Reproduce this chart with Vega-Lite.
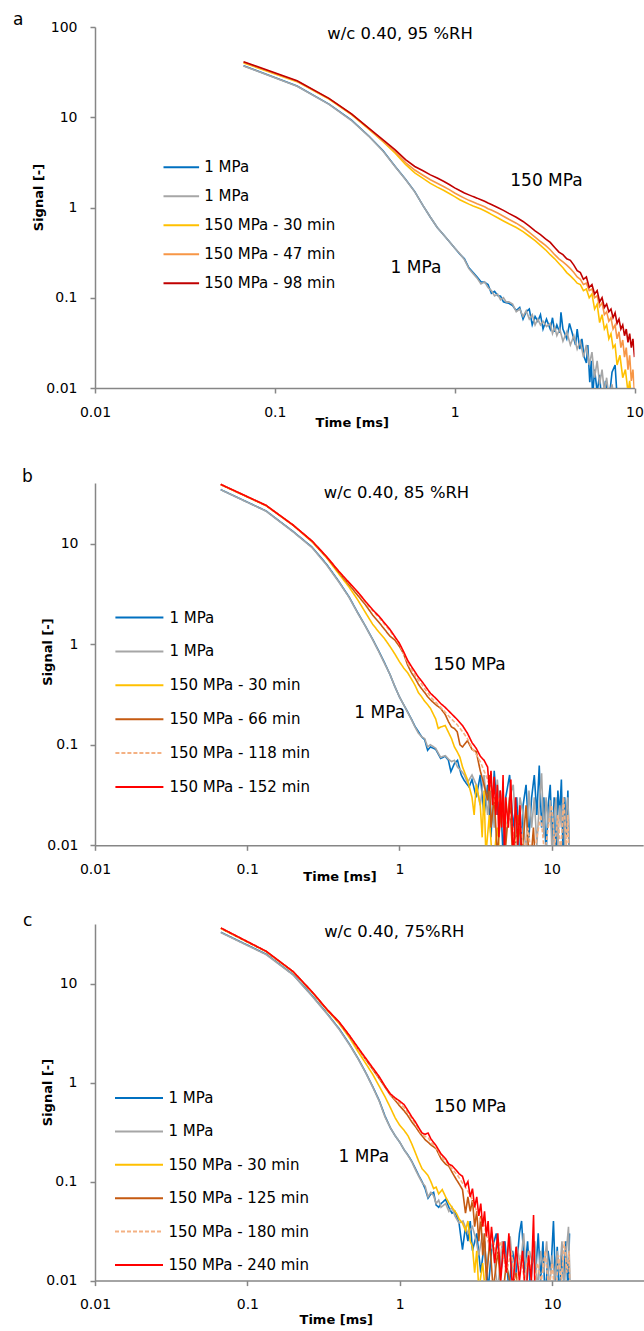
{
"$schema":"https://vega.github.io/schema/vega-lite/v6.json",
"padding":{"left":13,"top":11,"right":0,"bottom":0},
"config":{"view":{"stroke":null},"font":"DejaVu Sans",
"axis":{"grid":false,"domainColor":"#868686","tickColor":"#868686","tickSize":5,"domainWidth":1.5,"tickWidth":1.5,"labelFont":"DejaVu Sans","labelFontSize":14,"labelColor":"#000","titleFont":"DejaVu Sans","titleFontSize":13,"titleFontWeight":"bold","titleColor":"#000","labelFlush":false,"labelOverlap":false,"format":"~g"},
"legend":{"orient":"none","title":null,"symbolType":"stroke","symbolStrokeWidth":2,"labelFont":"DejaVu Sans","labelFontSize":15,"labelColor":"#000","clipHeight":20,"padding":0,"symbolOffset":0},
"title":{"anchor":"start","frame":"group","baseline":"alphabetic","fontSize":17,"fontWeight":"normal","font":"DejaVu Sans","color":"#000"}},
"datasets":{
"a":[
{"k":"B","t":0.067,"s":37.3},{"k":"B","t":0.133,"s":22.2},{"k":"B","t":0.2,"s":14.0},{"k":"B","t":0.267,"s":9.3},{"k":"B","t":0.333,"s":6.2},{"k":"B","t":0.4,"s":4.25},{"k":"B","t":0.467,"s":2.85},{"k":"B","t":0.533,"s":2.05},{"k":"B","t":0.6,"s":1.5},{"k":"B","t":0.667,"s":1.05},{"k":"B","t":0.733,"s":0.78},{"k":"B","t":0.8,"s":0.6},{"k":"B","t":0.867,"s":0.5},{"k":"B","t":0.933,"s":0.42},{"k":"B","t":1.0,"s":0.355},{"k":"B","t":1.067,"s":0.305},{"k":"B","t":1.133,"s":0.27},{"k":"B","t":1.2,"s":0.215},{"k":"B","t":1.267,"s":0.19},{"k":"B","t":1.333,"s":0.17},{"k":"B","t":1.4,"s":0.15},{"k":"B","t":1.467,"s":0.148},{"k":"B","t":1.533,"s":0.14},{"k":"B","t":1.6,"s":0.112},{"k":"B","t":1.667,"s":0.118},{"k":"B","t":1.733,"s":0.106},{"k":"B","t":1.8,"s":0.104},{"k":"B","t":1.867,"s":0.09},{"k":"B","t":1.933,"s":0.088},{"k":"B","t":2.0,"s":0.087},{"k":"B","t":2.1,"s":0.082},{"k":"B","t":2.2,"s":0.072},{"k":"B","t":2.3,"s":0.078},{"k":"B","t":2.4,"s":0.058},{"k":"B","t":2.5,"s":0.07},{"k":"B","t":2.6,"s":0.075},{"k":"B","t":2.7,"s":0.05},{"k":"B","t":2.8,"s":0.062},{"k":"B","t":2.9,"s":0.055},{"k":"B","t":3.0,"s":0.065},{"k":"B","t":3.1,"s":0.045},{"k":"B","t":3.24,"s":0.058},{"k":"B","t":3.4,"s":0.045},{"k":"B","t":3.5,"s":0.06},{"k":"B","t":3.6,"s":0.042},{"k":"B","t":3.7,"s":0.05},{"k":"B","t":3.84,"s":0.041},{"k":"B","t":3.9,"s":0.069},{"k":"B","t":4.0,"s":0.045},{"k":"B","t":4.2,"s":0.035},{"k":"B","t":4.35,"s":0.052},{"k":"B","t":4.55,"s":0.038},{"k":"B","t":4.7,"s":0.03},{"k":"B","t":4.8,"s":0.045},{"k":"B","t":4.96,"s":0.027},{"k":"B","t":5.1,"s":0.035},{"k":"B","t":5.25,"s":0.022},{"k":"B","t":5.4,"s":0.019},{"k":"B","t":5.5,"s":0.03},{"k":"B","t":5.64,"s":0.0116},{"k":"B","t":5.75,"s":0.02},{"k":"B","t":5.85,"s":0.008},{"k":"B","t":6.0,"s":0.016},{"k":"B","t":6.2,"s":0.009},{"k":"B","t":6.4,"s":0.014},{"k":"B","t":6.6,"s":0.006},{"k":"B","t":6.9,"s":0.012},{"k":"B","t":7.2,"s":0.007},{"k":"B","t":7.5,"s":0.015},{"k":"B","t":7.8,"s":0.018},{"k":"B","t":8.0,"s":0.008},{"k":"B","t":8.2,"s":0.005},
{"k":"G","t":0.067,"s":37.0},{"k":"G","t":0.133,"s":22.0},{"k":"G","t":0.2,"s":13.9},{"k":"G","t":0.267,"s":9.2},{"k":"G","t":0.333,"s":6.15},{"k":"G","t":0.4,"s":4.2},{"k":"G","t":0.467,"s":2.83},{"k":"G","t":0.533,"s":2.04},{"k":"G","t":0.6,"s":1.49},{"k":"G","t":0.667,"s":1.05},{"k":"G","t":0.733,"s":0.78},{"k":"G","t":0.8,"s":0.6},{"k":"G","t":0.867,"s":0.5},{"k":"G","t":0.933,"s":0.42},{"k":"G","t":1.0,"s":0.355},{"k":"G","t":1.067,"s":0.31},{"k":"G","t":1.133,"s":0.265},{"k":"G","t":1.2,"s":0.21},{"k":"G","t":1.267,"s":0.185},{"k":"G","t":1.333,"s":0.165},{"k":"G","t":1.4,"s":0.142},{"k":"G","t":1.467,"s":0.15},{"k":"G","t":1.533,"s":0.13},{"k":"G","t":1.6,"s":0.12},{"k":"G","t":1.667,"s":0.105},{"k":"G","t":1.733,"s":0.11},{"k":"G","t":1.8,"s":0.095},{"k":"G","t":1.867,"s":0.1},{"k":"G","t":1.933,"s":0.09},{"k":"G","t":2.0,"s":0.09},{"k":"G","t":2.1,"s":0.085},{"k":"G","t":2.2,"s":0.07},{"k":"G","t":2.3,"s":0.075},{"k":"G","t":2.4,"s":0.062},{"k":"G","t":2.5,"s":0.072},{"k":"G","t":2.6,"s":0.058},{"k":"G","t":2.7,"s":0.065},{"k":"G","t":2.8,"s":0.05},{"k":"G","t":2.9,"s":0.058},{"k":"G","t":3.0,"s":0.05},{"k":"G","t":3.1,"s":0.055},{"k":"G","t":3.24,"s":0.048},{"k":"G","t":3.4,"s":0.052},{"k":"G","t":3.5,"s":0.04},{"k":"G","t":3.6,"s":0.047},{"k":"G","t":3.7,"s":0.038},{"k":"G","t":3.84,"s":0.045},{"k":"G","t":4.0,"s":0.033},{"k":"G","t":4.2,"s":0.042},{"k":"G","t":4.4,"s":0.03},{"k":"G","t":4.6,"s":0.038},{"k":"G","t":4.8,"s":0.027},{"k":"G","t":5.0,"s":0.033},{"k":"G","t":5.2,"s":0.022},{"k":"G","t":5.4,"s":0.03},{"k":"G","t":5.6,"s":0.018},{"k":"G","t":5.8,"s":0.025},{"k":"G","t":6.0,"s":0.013},{"k":"G","t":6.2,"s":0.02},{"k":"G","t":6.4,"s":0.011},{"k":"G","t":6.6,"s":0.016},{"k":"G","t":6.8,"s":0.009},{"k":"G","t":7.0,"s":0.013},{"k":"G","t":7.2,"s":0.008},{"k":"G","t":7.5,"s":0.011},{"k":"G","t":7.8,"s":0.006},
{"k":"Y","t":0.067,"s":40.0},{"k":"Y","t":0.133,"s":24.8},{"k":"Y","t":0.2,"s":15.9},{"k":"Y","t":0.267,"s":10.7},{"k":"Y","t":0.333,"s":7.4},{"k":"Y","t":0.4,"s":5.35},{"k":"Y","t":0.467,"s":4.0},{"k":"Y","t":0.533,"s":3.0},{"k":"Y","t":0.6,"s":2.42},{"k":"Y","t":0.667,"s":2.1},{"k":"Y","t":0.733,"s":1.85},{"k":"Y","t":0.8,"s":1.68},{"k":"Y","t":0.867,"s":1.55},{"k":"Y","t":0.933,"s":1.43},{"k":"Y","t":1.0,"s":1.32},{"k":"Y","t":1.067,"s":1.22},{"k":"Y","t":1.133,"s":1.15},{"k":"Y","t":1.2,"s":1.09},{"k":"Y","t":1.267,"s":1.04},{"k":"Y","t":1.333,"s":1.0},{"k":"Y","t":1.4,"s":0.96},{"k":"Y","t":1.467,"s":0.92},{"k":"Y","t":1.533,"s":0.88},{"k":"Y","t":1.6,"s":0.84},{"k":"Y","t":1.733,"s":0.77},{"k":"Y","t":1.867,"s":0.71},{"k":"Y","t":2.0,"s":0.66},{"k":"Y","t":2.2,"s":0.6},{"k":"Y","t":2.4,"s":0.54},{"k":"Y","t":2.6,"s":0.48},{"k":"Y","t":2.8,"s":0.43},{"k":"Y","t":3.0,"s":0.38},{"k":"Y","t":3.2,"s":0.34},{"k":"Y","t":3.4,"s":0.3},{"k":"Y","t":3.6,"s":0.27},{"k":"Y","t":3.8,"s":0.24},{"k":"Y","t":4.0,"s":0.215},{"k":"Y","t":4.2,"s":0.19},{"k":"Y","t":4.4,"s":0.175},{"k":"Y","t":4.6,"s":0.16},{"k":"Y","t":4.8,"s":0.145},{"k":"Y","t":5.0,"s":0.14},{"k":"Y","t":5.2,"s":0.12},{"k":"Y","t":5.4,"s":0.125},{"k":"Y","t":5.6,"s":0.1},{"k":"Y","t":5.8,"s":0.11},{"k":"Y","t":6.0,"s":0.075},{"k":"Y","t":6.2,"s":0.085},{"k":"Y","t":6.4,"s":0.053},{"k":"Y","t":6.6,"s":0.065},{"k":"Y","t":6.8,"s":0.045},{"k":"Y","t":7.0,"s":0.05},{"k":"Y","t":7.2,"s":0.035},{"k":"Y","t":7.4,"s":0.04},{"k":"Y","t":7.6,"s":0.028},{"k":"Y","t":7.8,"s":0.03},{"k":"Y","t":8.0,"s":0.018},{"k":"Y","t":8.3,"s":0.023},{"k":"Y","t":8.6,"s":0.013},{"k":"Y","t":8.9,"s":0.016},{"k":"Y","t":9.2,"s":0.009},{"k":"Y","t":9.4,"s":0.012},{"k":"Y","t":9.7,"s":0.006},{"k":"Y","t":10.0,"s":0.008},
{"k":"O","t":0.067,"s":40.6},{"k":"O","t":0.133,"s":25.1},{"k":"O","t":0.2,"s":16.1},{"k":"O","t":0.267,"s":10.8},{"k":"O","t":0.333,"s":7.5},{"k":"O","t":0.4,"s":5.45},{"k":"O","t":0.467,"s":4.15},{"k":"O","t":0.533,"s":3.15},{"k":"O","t":0.6,"s":2.6},{"k":"O","t":0.667,"s":2.28},{"k":"O","t":0.733,"s":2.03},{"k":"O","t":0.8,"s":1.86},{"k":"O","t":0.867,"s":1.71},{"k":"O","t":0.933,"s":1.58},{"k":"O","t":1.0,"s":1.45},{"k":"O","t":1.067,"s":1.35},{"k":"O","t":1.133,"s":1.27},{"k":"O","t":1.2,"s":1.2},{"k":"O","t":1.267,"s":1.15},{"k":"O","t":1.333,"s":1.1},{"k":"O","t":1.4,"s":1.06},{"k":"O","t":1.467,"s":1.02},{"k":"O","t":1.533,"s":0.97},{"k":"O","t":1.6,"s":0.94},{"k":"O","t":1.733,"s":0.87},{"k":"O","t":1.867,"s":0.8},{"k":"O","t":2.0,"s":0.74},{"k":"O","t":2.2,"s":0.67},{"k":"O","t":2.4,"s":0.6},{"k":"O","t":2.6,"s":0.53},{"k":"O","t":2.8,"s":0.47},{"k":"O","t":3.0,"s":0.42},{"k":"O","t":3.2,"s":0.38},{"k":"O","t":3.4,"s":0.34},{"k":"O","t":3.6,"s":0.3},{"k":"O","t":3.8,"s":0.27},{"k":"O","t":4.0,"s":0.25},{"k":"O","t":4.2,"s":0.23},{"k":"O","t":4.4,"s":0.21},{"k":"O","t":4.6,"s":0.19},{"k":"O","t":4.8,"s":0.17},{"k":"O","t":5.0,"s":0.16},{"k":"O","t":5.2,"s":0.14},{"k":"O","t":5.4,"s":0.145},{"k":"O","t":5.6,"s":0.12},{"k":"O","t":5.8,"s":0.125},{"k":"O","t":6.0,"s":0.1},{"k":"O","t":6.2,"s":0.105},{"k":"O","t":6.4,"s":0.08},{"k":"O","t":6.6,"s":0.088},{"k":"O","t":6.8,"s":0.065},{"k":"O","t":7.0,"s":0.07},{"k":"O","t":7.2,"s":0.055},{"k":"O","t":7.4,"s":0.06},{"k":"O","t":7.6,"s":0.045},{"k":"O","t":7.8,"s":0.05},{"k":"O","t":8.0,"s":0.035},{"k":"O","t":8.2,"s":0.042},{"k":"O","t":8.4,"s":0.028},{"k":"O","t":8.6,"s":0.034},{"k":"O","t":8.8,"s":0.022},{"k":"O","t":9.0,"s":0.028},{"k":"O","t":9.2,"s":0.016},{"k":"O","t":9.4,"s":0.023},{"k":"O","t":9.6,"s":0.012},{"k":"O","t":9.8,"s":0.016},{"k":"O","t":10.0,"s":0.009},
{"k":"R","t":0.067,"s":41.3},{"k":"R","t":0.133,"s":25.4},{"k":"R","t":0.2,"s":16.2},{"k":"R","t":0.267,"s":10.9},{"k":"R","t":0.333,"s":7.6},{"k":"R","t":0.4,"s":5.6},{"k":"R","t":0.467,"s":4.35},{"k":"R","t":0.533,"s":3.4},{"k":"R","t":0.6,"s":2.85},{"k":"R","t":0.667,"s":2.55},{"k":"R","t":0.733,"s":2.3},{"k":"R","t":0.8,"s":2.12},{"k":"R","t":0.867,"s":1.95},{"k":"R","t":0.933,"s":1.8},{"k":"R","t":1.0,"s":1.65},{"k":"R","t":1.067,"s":1.54},{"k":"R","t":1.133,"s":1.45},{"k":"R","t":1.2,"s":1.38},{"k":"R","t":1.267,"s":1.32},{"k":"R","t":1.333,"s":1.27},{"k":"R","t":1.4,"s":1.22},{"k":"R","t":1.467,"s":1.17},{"k":"R","t":1.533,"s":1.12},{"k":"R","t":1.6,"s":1.08},{"k":"R","t":1.733,"s":1.0},{"k":"R","t":1.867,"s":0.93},{"k":"R","t":2.0,"s":0.86},{"k":"R","t":2.2,"s":0.78},{"k":"R","t":2.4,"s":0.7},{"k":"R","t":2.6,"s":0.62},{"k":"R","t":2.8,"s":0.55},{"k":"R","t":3.0,"s":0.5},{"k":"R","t":3.2,"s":0.45},{"k":"R","t":3.4,"s":0.41},{"k":"R","t":3.6,"s":0.36},{"k":"R","t":3.8,"s":0.32},{"k":"R","t":4.0,"s":0.3},{"k":"R","t":4.2,"s":0.27},{"k":"R","t":4.4,"s":0.26},{"k":"R","t":4.6,"s":0.23},{"k":"R","t":4.8,"s":0.2},{"k":"R","t":5.0,"s":0.19},{"k":"R","t":5.2,"s":0.16},{"k":"R","t":5.4,"s":0.17},{"k":"R","t":5.6,"s":0.13},{"k":"R","t":5.8,"s":0.14},{"k":"R","t":6.0,"s":0.11},{"k":"R","t":6.2,"s":0.12},{"k":"R","t":6.4,"s":0.09},{"k":"R","t":6.6,"s":0.1},{"k":"R","t":6.8,"s":0.078},{"k":"R","t":7.0,"s":0.085},{"k":"R","t":7.2,"s":0.07},{"k":"R","t":7.4,"s":0.075},{"k":"R","t":7.6,"s":0.06},{"k":"R","t":7.8,"s":0.068},{"k":"R","t":8.0,"s":0.052},{"k":"R","t":8.2,"s":0.058},{"k":"R","t":8.4,"s":0.045},{"k":"R","t":8.6,"s":0.05},{"k":"R","t":8.8,"s":0.038},{"k":"R","t":9.0,"s":0.045},{"k":"R","t":9.2,"s":0.032},{"k":"R","t":9.4,"s":0.04},{"k":"R","t":9.6,"s":0.028},{"k":"R","t":9.8,"s":0.035},{"k":"R","t":10.0,"s":0.022}
],
"b":[
{"k":"B","t":0.067,"s":34.4},{"k":"B","t":0.133,"s":21.1},{"k":"B","t":0.2,"s":13.2},{"k":"B","t":0.267,"s":9.2},{"k":"B","t":0.333,"s":6.2},{"k":"B","t":0.4,"s":4.2},{"k":"B","t":0.467,"s":2.95},{"k":"B","t":0.533,"s":2.05},{"k":"B","t":0.6,"s":1.5},{"k":"B","t":0.667,"s":1.12},{"k":"B","t":0.733,"s":0.85},{"k":"B","t":0.8,"s":0.65},{"k":"B","t":0.867,"s":0.5},{"k":"B","t":0.933,"s":0.38},{"k":"B","t":1.0,"s":0.3},{"k":"B","t":1.067,"s":0.25},{"k":"B","t":1.133,"s":0.212},{"k":"B","t":1.2,"s":0.18},{"k":"B","t":1.267,"s":0.152},{"k":"B","t":1.333,"s":0.135},{"k":"B","t":1.4,"s":0.12},{"k":"B","t":1.467,"s":0.112},{"k":"B","t":1.533,"s":0.088},{"k":"B","t":1.6,"s":0.095},{"k":"B","t":1.733,"s":0.09},{"k":"B","t":1.867,"s":0.073},{"k":"B","t":2.0,"s":0.077},{"k":"B","t":2.1,"s":0.07},{"k":"B","t":2.18,"s":0.054},{"k":"B","t":2.3,"s":0.065},{"k":"B","t":2.41,"s":0.07},{"k":"B","t":2.55,"s":0.05},{"k":"B","t":2.67,"s":0.044},{"k":"B","t":2.87,"s":0.038},{"k":"B","t":3.0,"s":0.045},{"k":"B","t":3.2,"s":0.03},{"k":"B","t":3.4,"s":0.05},{"k":"B","t":3.6,"s":0.02},{"k":"B","t":3.8,"s":0.04},{"k":"B","t":4.0,"s":0.012},{"k":"B","t":4.2,"s":0.055},{"k":"B","t":4.4,"s":0.02},{"k":"B","t":4.6,"s":0.035},{"k":"B","t":4.8,"s":0.008},{"k":"B","t":5.0,"s":0.03},{"k":"B","t":5.3,"s":0.05},{"k":"B","t":5.6,"s":0.015},{"k":"B","t":5.9,"s":0.03},{"k":"B","t":6.2,"s":0.006},{"k":"B","t":6.5,"s":0.025},{"k":"B","t":6.8,"s":0.04},{"k":"B","t":7.1,"s":0.012},{"k":"B","t":7.4,"s":0.03},{"k":"B","t":7.7,"s":0.05},{"k":"B","t":8.0,"s":0.02},{"k":"B","t":8.3,"s":0.062},{"k":"B","t":8.6,"s":0.015},{"k":"B","t":8.9,"s":0.03},{"k":"B","t":9.2,"s":0.008},{"k":"B","t":9.5,"s":0.025},{"k":"B","t":9.8,"s":0.04},{"k":"B","t":10.1,"s":0.01},{"k":"B","t":10.4,"s":0.03},{"k":"B","t":10.7,"s":0.006},{"k":"B","t":11.0,"s":0.035},{"k":"B","t":11.3,"s":0.02},{"k":"B","t":11.6,"s":0.045},{"k":"B","t":11.9,"s":0.008},{"k":"B","t":12.2,"s":0.03},{"k":"B","t":12.5,"s":0.012},{"k":"B","t":12.8,"s":0.035},{"k":"B","t":13.1,"s":0.006},
{"k":"G","t":0.067,"s":34.3},{"k":"G","t":0.133,"s":21.0},{"k":"G","t":0.2,"s":13.1},{"k":"G","t":0.267,"s":9.1},{"k":"G","t":0.333,"s":6.1},{"k":"G","t":0.4,"s":4.15},{"k":"G","t":0.467,"s":2.92},{"k":"G","t":0.533,"s":2.03},{"k":"G","t":0.6,"s":1.49},{"k":"G","t":0.667,"s":1.11},{"k":"G","t":0.733,"s":0.84},{"k":"G","t":0.8,"s":0.64},{"k":"G","t":0.867,"s":0.5},{"k":"G","t":0.933,"s":0.38},{"k":"G","t":1.0,"s":0.3},{"k":"G","t":1.067,"s":0.25},{"k":"G","t":1.133,"s":0.21},{"k":"G","t":1.2,"s":0.178},{"k":"G","t":1.267,"s":0.15},{"k":"G","t":1.333,"s":0.13},{"k":"G","t":1.4,"s":0.12},{"k":"G","t":1.467,"s":0.115},{"k":"G","t":1.533,"s":0.095},{"k":"G","t":1.6,"s":0.1},{"k":"G","t":1.733,"s":0.092},{"k":"G","t":1.867,"s":0.075},{"k":"G","t":2.0,"s":0.078},{"k":"G","t":2.1,"s":0.072},{"k":"G","t":2.2,"s":0.068},{"k":"G","t":2.3,"s":0.07},{"k":"G","t":2.41,"s":0.06},{"k":"G","t":2.55,"s":0.055},{"k":"G","t":2.67,"s":0.05},{"k":"G","t":2.8,"s":0.042},{"k":"G","t":3.0,"s":0.05},{"k":"G","t":3.2,"s":0.04},{"k":"G","t":3.4,"s":0.025},{"k":"G","t":3.6,"s":0.05},{"k":"G","t":3.8,"s":0.02},{"k":"G","t":4.0,"s":0.04},{"k":"G","t":4.2,"s":0.015},{"k":"G","t":4.4,"s":0.045},{"k":"G","t":4.6,"s":0.02},{"k":"G","t":4.8,"s":0.035},{"k":"G","t":5.0,"s":0.012},{"k":"G","t":5.3,"s":0.03},{"k":"G","t":5.6,"s":0.04},{"k":"G","t":5.9,"s":0.01},{"k":"G","t":6.2,"s":0.03},{"k":"G","t":6.5,"s":0.02},{"k":"G","t":6.8,"s":0.008},{"k":"G","t":7.1,"s":0.035},{"k":"G","t":7.4,"s":0.015},{"k":"G","t":7.7,"s":0.03},{"k":"G","t":8.0,"s":0.01},{"k":"G","t":8.3,"s":0.025},{"k":"G","t":8.6,"s":0.052},{"k":"G","t":8.9,"s":0.012},{"k":"G","t":9.2,"s":0.03},{"k":"G","t":9.5,"s":0.015},{"k":"G","t":9.8,"s":0.028},{"k":"G","t":10.1,"s":0.007},{"k":"G","t":10.4,"s":0.02},{"k":"G","t":10.7,"s":0.03},{"k":"G","t":11.0,"s":0.01},{"k":"G","t":11.3,"s":0.025},{"k":"G","t":11.6,"s":0.015},{"k":"G","t":11.9,"s":0.03},{"k":"G","t":12.2,"s":0.01},{"k":"G","t":12.5,"s":0.022},{"k":"G","t":12.8,"s":0.03},{"k":"G","t":13.1,"s":0.008},
{"k":"Y","t":0.067,"s":38.5},{"k":"Y","t":0.133,"s":23.8},{"k":"Y","t":0.2,"s":15.2},{"k":"Y","t":0.267,"s":10.4},{"k":"Y","t":0.333,"s":7.2},{"k":"Y","t":0.4,"s":5.0},{"k":"Y","t":0.467,"s":3.7},{"k":"Y","t":0.533,"s":2.75},{"k":"Y","t":0.6,"s":2.05},{"k":"Y","t":0.667,"s":1.58},{"k":"Y","t":0.733,"s":1.32},{"k":"Y","t":0.8,"s":1.13},{"k":"Y","t":0.867,"s":0.95},{"k":"Y","t":0.933,"s":0.8},{"k":"Y","t":1.0,"s":0.67},{"k":"Y","t":1.067,"s":0.58},{"k":"Y","t":1.133,"s":0.52},{"k":"Y","t":1.2,"s":0.45},{"k":"Y","t":1.267,"s":0.39},{"k":"Y","t":1.333,"s":0.33},{"k":"Y","t":1.4,"s":0.3},{"k":"Y","t":1.467,"s":0.27},{"k":"Y","t":1.533,"s":0.25},{"k":"Y","t":1.6,"s":0.23},{"k":"Y","t":1.733,"s":0.18},{"k":"Y","t":1.8,"s":0.145},{"k":"Y","t":1.867,"s":0.15},{"k":"Y","t":2.0,"s":0.155},{"k":"Y","t":2.2,"s":0.115},{"k":"Y","t":2.3,"s":0.095},{"k":"Y","t":2.4,"s":0.085},{"k":"Y","t":2.5,"s":0.075},{"k":"Y","t":2.6,"s":0.06},{"k":"Y","t":2.8,"s":0.045},{"k":"Y","t":3.0,"s":0.03},{"k":"Y","t":3.1,"s":0.02},{"k":"Y","t":3.2,"s":0.04},{"k":"Y","t":3.4,"s":0.025},{"k":"Y","t":3.5,"s":0.012},{"k":"Y","t":3.6,"s":0.035},{"k":"Y","t":3.7,"s":0.008},{"k":"Y","t":3.9,"s":0.02},{"k":"Y","t":4.1,"s":0.006},{"k":"Y","t":4.4,"s":0.015},{"k":"Y","t":4.7,"s":0.005},
{"k":"N","t":0.067,"s":38.7},{"k":"N","t":0.133,"s":23.9},{"k":"N","t":0.2,"s":15.3},{"k":"N","t":0.267,"s":10.5},{"k":"N","t":0.333,"s":7.3},{"k":"N","t":0.4,"s":5.2},{"k":"N","t":0.467,"s":3.9},{"k":"N","t":0.533,"s":3.05},{"k":"N","t":0.6,"s":2.45},{"k":"N","t":0.667,"s":1.95},{"k":"N","t":0.733,"s":1.65},{"k":"N","t":0.8,"s":1.4},{"k":"N","t":0.867,"s":1.2},{"k":"N","t":0.933,"s":1.1},{"k":"N","t":1.0,"s":0.95},{"k":"N","t":1.067,"s":0.8},{"k":"N","t":1.133,"s":0.62},{"k":"N","t":1.2,"s":0.52},{"k":"N","t":1.267,"s":0.46},{"k":"N","t":1.333,"s":0.4},{"k":"N","t":1.4,"s":0.36},{"k":"N","t":1.467,"s":0.33},{"k":"N","t":1.533,"s":0.3},{"k":"N","t":1.6,"s":0.28},{"k":"N","t":1.733,"s":0.25},{"k":"N","t":1.867,"s":0.23},{"k":"N","t":2.0,"s":0.2},{"k":"N","t":2.1,"s":0.17},{"k":"N","t":2.2,"s":0.15},{"k":"N","t":2.3,"s":0.145},{"k":"N","t":2.4,"s":0.134},{"k":"N","t":2.5,"s":0.1},{"k":"N","t":2.6,"s":0.095},{"k":"N","t":2.8,"s":0.11},{"k":"N","t":3.0,"s":0.09},{"k":"N","t":3.2,"s":0.085},{"k":"N","t":3.4,"s":0.055},{"k":"N","t":3.6,"s":0.04},{"k":"N","t":3.8,"s":0.028},{"k":"N","t":3.9,"s":0.05},{"k":"N","t":4.0,"s":0.015},{"k":"N","t":4.2,"s":0.03},{"k":"N","t":4.4,"s":0.008},{"k":"N","t":4.7,"s":0.025},{"k":"N","t":5.0,"s":0.01},{"k":"N","t":5.3,"s":0.03},{"k":"N","t":5.6,"s":0.006},{"k":"N","t":6.0,"s":0.02},{"k":"N","t":6.4,"s":0.008},{"k":"N","t":6.8,"s":0.025},{"k":"N","t":7.2,"s":0.005},{"k":"N","t":7.6,"s":0.015},{"k":"N","t":7.9,"s":0.005},
{"k":"P","t":0.067,"s":38.8},{"k":"P","t":0.133,"s":24.0},{"k":"P","t":0.2,"s":15.3},{"k":"P","t":0.267,"s":10.6},{"k":"P","t":0.333,"s":7.4},{"k":"P","t":0.4,"s":5.3},{"k":"P","t":0.467,"s":4.05},{"k":"P","t":0.533,"s":3.25},{"k":"P","t":0.6,"s":2.6},{"k":"P","t":0.667,"s":2.15},{"k":"P","t":0.733,"s":1.85},{"k":"P","t":0.8,"s":1.57},{"k":"P","t":0.867,"s":1.36},{"k":"P","t":0.933,"s":1.16},{"k":"P","t":1.0,"s":1.0},{"k":"P","t":1.067,"s":0.8},{"k":"P","t":1.133,"s":0.65},{"k":"P","t":1.2,"s":0.56},{"k":"P","t":1.267,"s":0.49},{"k":"P","t":1.333,"s":0.44},{"k":"P","t":1.4,"s":0.4},{"k":"P","t":1.467,"s":0.36},{"k":"P","t":1.533,"s":0.33},{"k":"P","t":1.6,"s":0.3},{"k":"P","t":1.733,"s":0.265},{"k":"P","t":1.867,"s":0.235},{"k":"P","t":2.0,"s":0.21},{"k":"P","t":2.2,"s":0.18},{"k":"P","t":2.4,"s":0.158},{"k":"P","t":2.6,"s":0.135},{"k":"P","t":2.8,"s":0.115},{"k":"P","t":3.0,"s":0.093},{"k":"P","t":3.2,"s":0.08},{"k":"P","t":3.4,"s":0.068},{"k":"P","t":3.6,"s":0.055},{"k":"P","t":3.8,"s":0.045},{"k":"P","t":4.0,"s":0.035},{"k":"P","t":4.3,"s":0.025},{"k":"P","t":4.6,"s":0.03},{"k":"P","t":5.0,"s":0.015},{"k":"P","t":5.4,"s":0.02},{"k":"P","t":5.8,"s":0.01},{"k":"P","t":6.2,"s":0.018},{"k":"P","t":6.6,"s":0.008},{"k":"P","t":7.0,"s":0.015},{"k":"P","t":7.5,"s":0.006},{"k":"P","t":8.0,"s":0.012},{"k":"P","t":8.5,"s":0.02},{"k":"P","t":9.0,"s":0.008},{"k":"P","t":9.5,"s":0.015},{"k":"P","t":10.0,"s":0.025},{"k":"P","t":10.5,"s":0.01},{"k":"P","t":11.0,"s":0.02},{"k":"P","t":11.5,"s":0.008},{"k":"P","t":12.0,"s":0.03},{"k":"P","t":12.5,"s":0.01},{"k":"P","t":12.8,"s":0.02},{"k":"P","t":13.0,"s":0.006},
{"k":"R","t":0.067,"s":38.8},{"k":"R","t":0.133,"s":24.0},{"k":"R","t":0.2,"s":15.3},{"k":"R","t":0.267,"s":10.6},{"k":"R","t":0.333,"s":7.4},{"k":"R","t":0.4,"s":5.3},{"k":"R","t":0.467,"s":4.1},{"k":"R","t":0.533,"s":3.3},{"k":"R","t":0.6,"s":2.65},{"k":"R","t":0.667,"s":2.2},{"k":"R","t":0.733,"s":1.9},{"k":"R","t":0.8,"s":1.62},{"k":"R","t":0.867,"s":1.4},{"k":"R","t":0.933,"s":1.19},{"k":"R","t":1.0,"s":1.02},{"k":"R","t":1.067,"s":0.84},{"k":"R","t":1.133,"s":0.69},{"k":"R","t":1.2,"s":0.6},{"k":"R","t":1.267,"s":0.53},{"k":"R","t":1.333,"s":0.47},{"k":"R","t":1.4,"s":0.43},{"k":"R","t":1.467,"s":0.39},{"k":"R","t":1.533,"s":0.355},{"k":"R","t":1.6,"s":0.325},{"k":"R","t":1.733,"s":0.29},{"k":"R","t":1.867,"s":0.257},{"k":"R","t":2.0,"s":0.235},{"k":"R","t":2.2,"s":0.203},{"k":"R","t":2.4,"s":0.178},{"k":"R","t":2.6,"s":0.155},{"k":"R","t":2.8,"s":0.13},{"k":"R","t":3.0,"s":0.105},{"k":"R","t":3.2,"s":0.092},{"k":"R","t":3.4,"s":0.077},{"k":"R","t":3.6,"s":0.07},{"k":"R","t":3.8,"s":0.06},{"k":"R","t":3.9,"s":0.035},{"k":"R","t":4.0,"s":0.055},{"k":"R","t":4.1,"s":0.025},{"k":"R","t":4.2,"s":0.048},{"k":"R","t":4.3,"s":0.02},{"k":"R","t":4.4,"s":0.04},{"k":"R","t":4.5,"s":0.012},{"k":"R","t":4.6,"s":0.035},{"k":"R","t":4.7,"s":0.015},{"k":"R","t":4.8,"s":0.05},{"k":"R","t":4.9,"s":0.008},{"k":"R","t":5.0,"s":0.03},{"k":"R","t":5.2,"s":0.015},{"k":"R","t":5.4,"s":0.045},{"k":"R","t":5.6,"s":0.006},{"k":"R","t":5.8,"s":0.03},{"k":"R","t":6.0,"s":0.01},{"k":"R","t":6.2,"s":0.025},{"k":"R","t":6.4,"s":0.005}
],
"c":[
{"k":"B","t":0.067,"s":33.0},{"k":"B","t":0.133,"s":19.8},{"k":"B","t":0.2,"s":12.3},{"k":"B","t":0.267,"s":7.5},{"k":"B","t":0.333,"s":5.0},{"k":"B","t":0.4,"s":3.5},{"k":"B","t":0.467,"s":2.45},{"k":"B","t":0.533,"s":1.75},{"k":"B","t":0.6,"s":1.25},{"k":"B","t":0.667,"s":0.9},{"k":"B","t":0.733,"s":0.66},{"k":"B","t":0.8,"s":0.46},{"k":"B","t":0.867,"s":0.35},{"k":"B","t":0.933,"s":0.29},{"k":"B","t":1.0,"s":0.25},{"k":"B","t":1.067,"s":0.21},{"k":"B","t":1.133,"s":0.185},{"k":"B","t":1.2,"s":0.16},{"k":"B","t":1.267,"s":0.135},{"k":"B","t":1.333,"s":0.115},{"k":"B","t":1.4,"s":0.1},{"k":"B","t":1.467,"s":0.085},{"k":"B","t":1.533,"s":0.068},{"k":"B","t":1.6,"s":0.075},{"k":"B","t":1.667,"s":0.078},{"k":"B","t":1.733,"s":0.058},{"k":"B","t":1.8,"s":0.055},{"k":"B","t":1.867,"s":0.06},{"k":"B","t":2.0,"s":0.066},{"k":"B","t":2.1,"s":0.055},{"k":"B","t":2.2,"s":0.048},{"k":"B","t":2.3,"s":0.05},{"k":"B","t":2.45,"s":0.038},{"k":"B","t":2.58,"s":0.0206},{"k":"B","t":2.7,"s":0.035},{"k":"B","t":2.8,"s":0.025},{"k":"B","t":2.9,"s":0.04},{"k":"B","t":3.0,"s":0.02},{"k":"B","t":3.2,"s":0.03},{"k":"B","t":3.4,"s":0.012},{"k":"B","t":3.6,"s":0.025},{"k":"B","t":3.8,"s":0.008},{"k":"B","t":4.0,"s":0.02},{"k":"B","t":4.3,"s":0.03},{"k":"B","t":4.6,"s":0.012},{"k":"B","t":4.9,"s":0.025},{"k":"B","t":5.2,"s":0.008},{"k":"B","t":5.5,"s":0.02},{"k":"B","t":5.8,"s":0.012},{"k":"B","t":6.1,"s":0.03},{"k":"B","t":6.3,"s":0.04},{"k":"B","t":6.6,"s":0.012},{"k":"B","t":6.9,"s":0.025},{"k":"B","t":7.2,"s":0.008},{"k":"B","t":7.5,"s":0.02},{"k":"B","t":7.8,"s":0.012},{"k":"B","t":8.1,"s":0.03},{"k":"B","t":8.4,"s":0.01},{"k":"B","t":8.7,"s":0.025},{"k":"B","t":9.0,"s":0.006},{"k":"B","t":9.4,"s":0.02},{"k":"B","t":9.8,"s":0.012},{"k":"B","t":10.2,"s":0.04},{"k":"B","t":10.5,"s":0.01},{"k":"B","t":10.8,"s":0.022},{"k":"B","t":11.1,"s":0.006},{"k":"B","t":11.5,"s":0.018},{"k":"B","t":11.9,"s":0.01},{"k":"B","t":12.3,"s":0.025},{"k":"B","t":12.7,"s":0.008},{"k":"B","t":13.0,"s":0.03},
{"k":"G","t":0.067,"s":32.8},{"k":"G","t":0.133,"s":19.6},{"k":"G","t":0.2,"s":12.2},{"k":"G","t":0.267,"s":7.4},{"k":"G","t":0.333,"s":4.95},{"k":"G","t":0.4,"s":3.45},{"k":"G","t":0.467,"s":2.42},{"k":"G","t":0.533,"s":1.73},{"k":"G","t":0.6,"s":1.24},{"k":"G","t":0.667,"s":0.89},{"k":"G","t":0.733,"s":0.65},{"k":"G","t":0.8,"s":0.45},{"k":"G","t":0.867,"s":0.35},{"k":"G","t":0.933,"s":0.29},{"k":"G","t":1.0,"s":0.25},{"k":"G","t":1.067,"s":0.21},{"k":"G","t":1.133,"s":0.183},{"k":"G","t":1.2,"s":0.158},{"k":"G","t":1.267,"s":0.132},{"k":"G","t":1.333,"s":0.113},{"k":"G","t":1.4,"s":0.098},{"k":"G","t":1.467,"s":0.09},{"k":"G","t":1.533,"s":0.07},{"k":"G","t":1.6,"s":0.078},{"k":"G","t":1.667,"s":0.072},{"k":"G","t":1.733,"s":0.06},{"k":"G","t":1.8,"s":0.065},{"k":"G","t":1.867,"s":0.055},{"k":"G","t":2.0,"s":0.06},{"k":"G","t":2.1,"s":0.05},{"k":"G","t":2.2,"s":0.055},{"k":"G","t":2.3,"s":0.045},{"k":"G","t":2.45,"s":0.038},{"k":"G","t":2.6,"s":0.04},{"k":"G","t":2.8,"s":0.03},{"k":"G","t":3.0,"s":0.035},{"k":"G","t":3.16,"s":0.026},{"k":"G","t":3.3,"s":0.018},{"k":"G","t":3.5,"s":0.03},{"k":"G","t":3.7,"s":0.012},{"k":"G","t":3.9,"s":0.025},{"k":"G","t":4.1,"s":0.02},{"k":"G","t":4.4,"s":0.008},{"k":"G","t":4.7,"s":0.025},{"k":"G","t":5.0,"s":0.015},{"k":"G","t":5.3,"s":0.028},{"k":"G","t":5.6,"s":0.01},{"k":"G","t":5.9,"s":0.022},{"k":"G","t":6.2,"s":0.014},{"k":"G","t":6.5,"s":0.03},{"k":"G","t":6.8,"s":0.01},{"k":"G","t":7.1,"s":0.02},{"k":"G","t":7.4,"s":0.015},{"k":"G","t":7.7,"s":0.025},{"k":"G","t":8.0,"s":0.008},{"k":"G","t":8.4,"s":0.02},{"k":"G","t":8.8,"s":0.012},{"k":"G","t":9.2,"s":0.025},{"k":"G","t":9.6,"s":0.008},{"k":"G","t":10.0,"s":0.018},{"k":"G","t":10.4,"s":0.01},{"k":"G","t":10.8,"s":0.02},{"k":"G","t":11.2,"s":0.012},{"k":"G","t":11.6,"s":0.025},{"k":"G","t":12.0,"s":0.008},{"k":"G","t":12.4,"s":0.02},{"k":"G","t":12.8,"s":0.035},{"k":"G","t":13.1,"s":0.01},
{"k":"Y","t":0.067,"s":36.0},{"k":"Y","t":0.133,"s":21.0},{"k":"Y","t":0.2,"s":13.1},{"k":"Y","t":0.267,"s":8.1},{"k":"Y","t":0.333,"s":5.4},{"k":"Y","t":0.4,"s":3.95},{"k":"Y","t":0.467,"s":2.85},{"k":"Y","t":0.533,"s":2.05},{"k":"Y","t":0.6,"s":1.55},{"k":"Y","t":0.667,"s":1.2},{"k":"Y","t":0.733,"s":0.92},{"k":"Y","t":0.8,"s":0.72},{"k":"Y","t":0.867,"s":0.56},{"k":"Y","t":0.933,"s":0.44},{"k":"Y","t":1.0,"s":0.37},{"k":"Y","t":1.067,"s":0.33},{"k":"Y","t":1.133,"s":0.29},{"k":"Y","t":1.2,"s":0.24},{"k":"Y","t":1.267,"s":0.195},{"k":"Y","t":1.333,"s":0.16},{"k":"Y","t":1.4,"s":0.135},{"k":"Y","t":1.467,"s":0.125},{"k":"Y","t":1.533,"s":0.115},{"k":"Y","t":1.6,"s":0.1},{"k":"Y","t":1.667,"s":0.085},{"k":"Y","t":1.733,"s":0.088},{"k":"Y","t":1.8,"s":0.075},{"k":"Y","t":1.9,"s":0.083},{"k":"Y","t":2.0,"s":0.07},{"k":"Y","t":2.1,"s":0.061},{"k":"Y","t":2.2,"s":0.055},{"k":"Y","t":2.35,"s":0.048},{"k":"Y","t":2.45,"s":0.042},{"k":"Y","t":2.58,"s":0.038},{"k":"Y","t":2.7,"s":0.032},{"k":"Y","t":2.8,"s":0.04},{"k":"Y","t":2.9,"s":0.025},{"k":"Y","t":3.0,"s":0.022},{"k":"Y","t":3.1,"s":0.012},{"k":"Y","t":3.2,"s":0.02},{"k":"Y","t":3.3,"s":0.008},{"k":"Y","t":3.5,"s":0.015},{"k":"Y","t":3.7,"s":0.006},
{"k":"N","t":0.067,"s":36.3},{"k":"N","t":0.133,"s":21.1},{"k":"N","t":0.2,"s":13.15},{"k":"N","t":0.267,"s":8.15},{"k":"N","t":0.333,"s":5.45},{"k":"N","t":0.4,"s":4.05},{"k":"N","t":0.467,"s":2.95},{"k":"N","t":0.533,"s":2.2},{"k":"N","t":0.6,"s":1.7},{"k":"N","t":0.667,"s":1.35},{"k":"N","t":0.733,"s":1.1},{"k":"N","t":0.8,"s":0.9},{"k":"N","t":0.867,"s":0.75},{"k":"N","t":0.933,"s":0.66},{"k":"N","t":1.0,"s":0.58},{"k":"N","t":1.067,"s":0.52},{"k":"N","t":1.133,"s":0.46},{"k":"N","t":1.2,"s":0.4},{"k":"N","t":1.267,"s":0.36},{"k":"N","t":1.333,"s":0.32},{"k":"N","t":1.4,"s":0.29},{"k":"N","t":1.467,"s":0.265},{"k":"N","t":1.533,"s":0.25},{"k":"N","t":1.6,"s":0.235},{"k":"N","t":1.733,"s":0.215},{"k":"N","t":1.867,"s":0.17},{"k":"N","t":2.0,"s":0.15},{"k":"N","t":2.1,"s":0.143},{"k":"N","t":2.2,"s":0.125},{"k":"N","t":2.35,"s":0.105},{"k":"N","t":2.45,"s":0.095},{"k":"N","t":2.58,"s":0.083},{"k":"N","t":2.7,"s":0.048},{"k":"N","t":2.8,"s":0.07},{"k":"N","t":2.9,"s":0.05},{"k":"N","t":3.0,"s":0.065},{"k":"N","t":3.1,"s":0.035},{"k":"N","t":3.2,"s":0.05},{"k":"N","t":3.3,"s":0.025},{"k":"N","t":3.4,"s":0.045},{"k":"N","t":3.5,"s":0.018},{"k":"N","t":3.6,"s":0.03},{"k":"N","t":3.7,"s":0.01},{"k":"N","t":3.9,"s":0.025},{"k":"N","t":4.1,"s":0.008},{"k":"N","t":4.4,"s":0.02},{"k":"N","t":4.7,"s":0.006},{"k":"N","t":5.0,"s":0.015},{"k":"N","t":5.4,"s":0.008},{"k":"N","t":5.8,"s":0.012},{"k":"N","t":6.2,"s":0.005},
{"k":"P","t":0.067,"s":36.4},{"k":"P","t":0.133,"s":21.15},{"k":"P","t":0.2,"s":13.2},{"k":"P","t":0.267,"s":8.2},{"k":"P","t":0.333,"s":5.5},{"k":"P","t":0.4,"s":4.08},{"k":"P","t":0.467,"s":2.98},{"k":"P","t":0.533,"s":2.22},{"k":"P","t":0.6,"s":1.72},{"k":"P","t":0.667,"s":1.38},{"k":"P","t":0.733,"s":1.12},{"k":"P","t":0.8,"s":0.92},{"k":"P","t":0.867,"s":0.76},{"k":"P","t":0.933,"s":0.68},{"k":"P","t":1.0,"s":0.62},{"k":"P","t":1.067,"s":0.56},{"k":"P","t":1.133,"s":0.49},{"k":"P","t":1.2,"s":0.43},{"k":"P","t":1.267,"s":0.38},{"k":"P","t":1.333,"s":0.335},{"k":"P","t":1.4,"s":0.3},{"k":"P","t":1.467,"s":0.285},{"k":"P","t":1.533,"s":0.28},{"k":"P","t":1.6,"s":0.25},{"k":"P","t":1.733,"s":0.22},{"k":"P","t":1.867,"s":0.18},{"k":"P","t":2.0,"s":0.16},{"k":"P","t":2.2,"s":0.135},{"k":"P","t":2.4,"s":0.115},{"k":"P","t":2.6,"s":0.095},{"k":"P","t":2.8,"s":0.08},{"k":"P","t":3.0,"s":0.065},{"k":"P","t":3.2,"s":0.05},{"k":"P","t":3.4,"s":0.04},{"k":"P","t":3.6,"s":0.035},{"k":"P","t":3.8,"s":0.025},{"k":"P","t":4.0,"s":0.03},{"k":"P","t":4.3,"s":0.018},{"k":"P","t":4.6,"s":0.025},{"k":"P","t":5.0,"s":0.012},{"k":"P","t":5.4,"s":0.02},{"k":"P","t":5.8,"s":0.008},{"k":"P","t":6.2,"s":0.018},{"k":"P","t":6.6,"s":0.01},{"k":"P","t":7.0,"s":0.02},{"k":"P","t":7.5,"s":0.007},{"k":"P","t":8.0,"s":0.015},{"k":"P","t":8.5,"s":0.01},{"k":"P","t":9.0,"s":0.02},{"k":"P","t":9.5,"s":0.008},{"k":"P","t":10.0,"s":0.015},{"k":"P","t":10.5,"s":0.006},{"k":"P","t":11.0,"s":0.018},{"k":"P","t":11.5,"s":0.01},{"k":"P","t":12.0,"s":0.025},{"k":"P","t":12.5,"s":0.012},{"k":"P","t":12.9,"s":0.02},{"k":"P","t":13.1,"s":0.006},
{"k":"R","t":0.067,"s":36.5},{"k":"R","t":0.133,"s":21.2},{"k":"R","t":0.2,"s":13.2},{"k":"R","t":0.267,"s":8.2},{"k":"R","t":0.333,"s":5.5},{"k":"R","t":0.4,"s":4.1},{"k":"R","t":0.467,"s":3.0},{"k":"R","t":0.533,"s":2.25},{"k":"R","t":0.6,"s":1.75},{"k":"R","t":0.667,"s":1.4},{"k":"R","t":0.733,"s":1.15},{"k":"R","t":0.8,"s":0.92},{"k":"R","t":0.867,"s":0.77},{"k":"R","t":0.933,"s":0.7},{"k":"R","t":1.0,"s":0.65},{"k":"R","t":1.067,"s":0.6},{"k":"R","t":1.133,"s":0.52},{"k":"R","t":1.2,"s":0.45},{"k":"R","t":1.267,"s":0.4},{"k":"R","t":1.333,"s":0.35},{"k":"R","t":1.4,"s":0.31},{"k":"R","t":1.467,"s":0.3},{"k":"R","t":1.533,"s":0.31},{"k":"R","t":1.6,"s":0.27},{"k":"R","t":1.733,"s":0.23},{"k":"R","t":1.867,"s":0.19},{"k":"R","t":2.0,"s":0.17},{"k":"R","t":2.1,"s":0.15},{"k":"R","t":2.2,"s":0.145},{"k":"R","t":2.35,"s":0.13},{"k":"R","t":2.45,"s":0.12},{"k":"R","t":2.58,"s":0.113},{"k":"R","t":2.7,"s":0.09},{"k":"R","t":2.8,"s":0.1},{"k":"R","t":2.9,"s":0.07},{"k":"R","t":3.0,"s":0.085},{"k":"R","t":3.1,"s":0.055},{"k":"R","t":3.2,"s":0.07},{"k":"R","t":3.3,"s":0.045},{"k":"R","t":3.4,"s":0.06},{"k":"R","t":3.5,"s":0.035},{"k":"R","t":3.6,"s":0.05},{"k":"R","t":3.7,"s":0.028},{"k":"R","t":3.8,"s":0.04},{"k":"R","t":3.9,"s":0.02},{"k":"R","t":4.0,"s":0.035},{"k":"R","t":4.2,"s":0.015},{"k":"R","t":4.4,"s":0.03},{"k":"R","t":4.6,"s":0.01},{"k":"R","t":4.8,"s":0.025},{"k":"R","t":5.0,"s":0.012},{"k":"R","t":5.2,"s":0.03},{"k":"R","t":5.5,"s":0.008},{"k":"R","t":5.8,"s":0.022},{"k":"R","t":6.1,"s":0.01},{"k":"R","t":6.4,"s":0.02},{"k":"R","t":6.7,"s":0.006},{"k":"R","t":7.0,"s":0.018},{"k":"R","t":7.3,"s":0.01},{"k":"R","t":7.55,"s":0.046},{"k":"R","t":7.7,"s":0.008}
]},
"columns":1,"align":"none","spacing":39,
"resolve":{"scale":{"x":"independent","y":"independent","color":"independent","strokeDash":"independent"}},
"concat":[
{"title":{"text":"a","dx":-82,"offset":-9},
"width":539.5,"height":361,
"layer":[
{"data":{"name":"a"},"mark":{"type":"line","clip":true,"strokeWidth":1.6},
"encoding":{
"x":{"field":"t","type":"quantitative","scale":{"type":"log","domain":[0.01,10],"nice":false},"axis":{"values":[0.01,0.1,1,10],"labelPadding":12,"title":"Time [ms]","titleX":256.7,"titleY":34,"titleBaseline":"middle","titleAlign":"center"}},
"y":{"field":"s","type":"quantitative","scale":{"type":"log","domain":[0.01,100],"nice":false},"axis":{"values":[0.01,0.1,1,10,100],"labelPadding":13,"title":"Signal [-]","titleX":-56.2,"titleY":170,"titleAngle":270,"titleBaseline":"middle","titleAlign":"center"}},
"color":{"field":"k","type":"nominal","scale":{"domain":["B","G","Y","O","R"],"range":["#0070C0","#A6A6A6","#FFC000","#F79646","#C00000"]},
"legend":{"legendX":67.3,"legendY":130.2,"symbolSize":1267,"rowPadding":9,"labelOffset":4,"labelExpr":"datum.label=='B'||datum.label=='G'?'1 MPa':datum.label=='Y'?'150 MPa - 30 min':datum.label=='O'?'150 MPa - 47 min':'150 MPa - 98 min'"}}}},
{"data":{"values":[{"t":3.24,"s":1.97,"label":"150 MPa"},{"t":0.609,"s":0.2126,"label":"1 MPa"}]},"mark":{"type":"text","fontSize":17,"align":"center","baseline":"middle","color":"#000"},
"encoding":{"x":{"field":"t","type":"quantitative"},"y":{"field":"s","type":"quantitative"},"text":{"field":"label"}}},
{"data":{"values":[{"t":0.497,"s":82.6,"label":"w/c 0.40, 95 %RH"}]},"mark":{"type":"text","fontSize":16.4,"align":"center","baseline":"middle","color":"#000"},
"encoding":{"x":{"field":"t","type":"quantitative"},"y":{"field":"s","type":"quantitative"},"text":{"field":"label"}}}
]},
{"concat":[
{"title":{"text":"b","dx":-73.1,"offset":-3},
"width":548.2,"height":362.3,
"layer":[
{"data":{"name":"b"},"mark":{"type":"line","clip":true,"strokeWidth":1.6},
"encoding":{
"x":{"field":"t","type":"quantitative","scale":{"type":"log","domain":[0.01,40],"nice":false},"axis":{"values":[0.01,0.1,1,10],"labelPadding":12,"title":"Time [ms]","titleX":244.5,"titleY":31,"titleBaseline":"middle","titleAlign":"center"}},
"y":{"field":"s","type":"quantitative","scale":{"type":"log","domain":[0.01,40],"nice":false},"axis":{"values":[0.01,0.1,1,10],"labelPadding":12,"title":"Signal [-]","titleX":-47.3,"titleY":168.5,"titleAngle":270,"titleBaseline":"middle","titleAlign":"center"}},
"color":{"field":"k","type":"nominal","scale":{"domain":["B","G","Y","N","P","R"],"range":["#0070C0","#A6A6A6","#FFC000","#C55A11","#F4B183","#FF0000"]},
"legend":{"legendX":19.4,"legendY":124.5,"symbolSize":2304,"rowPadding":13.9,"labelOffset":5,"labelExpr":"datum.label=='B'||datum.label=='G'?'1 MPa':datum.label=='Y'?'150 MPa - 30 min':datum.label=='N'?'150 MPa - 66 min':datum.label=='P'?'150 MPa - 118 min':'150 MPa - 152 min'"}},
"strokeDash":{"field":"k","type":"nominal","scale":{"domain":["B","G","Y","N","P","R"],"range":[[1,0],[1,0],[1,0],[1,0],[4,2],[1,0]]},
"legend":{"legendX":19.4,"legendY":124.5,"symbolSize":2304,"rowPadding":13.9,"labelOffset":5,"labelExpr":"datum.label=='B'||datum.label=='G'?'1 MPa':datum.label=='Y'?'150 MPa - 30 min':datum.label=='N'?'150 MPa - 66 min':datum.label=='P'?'150 MPa - 118 min':'150 MPa - 152 min'"}}}},
{"data":{"values":[{"t":2.89,"s":0.617,"label":"150 MPa"},{"t":0.742,"s":0.2065,"label":"1 MPa"}]},"mark":{"type":"text","fontSize":17,"align":"center","baseline":"middle","color":"#000"},
"encoding":{"x":{"field":"t","type":"quantitative"},"y":{"field":"s","type":"quantitative"},"text":{"field":"label"}}},
{"data":{"values":[{"t":0.957,"s":32.0,"label":"w/c 0.40, 85 %RH"}]},"mark":{"type":"text","fontSize":16.4,"align":"center","baseline":"middle","color":"#000"},
"encoding":{"x":{"field":"t","type":"quantitative"},"y":{"field":"s","type":"quantitative"},"text":{"field":"label"}}}
]},
{"title":{"text":"c","dx":-71.9,"offset":-6.3},
"width":548.9,"height":356.6,
"layer":[
{"data":{"name":"c"},"mark":{"type":"line","clip":true,"strokeWidth":1.6},
"encoding":{
"x":{"field":"t","type":"quantitative","scale":{"type":"log","domain":[0.01,40],"nice":false},"axis":{"values":[0.01,0.1,1,10],"labelPadding":12,"title":"Time [ms]","titleX":240.7,"titleY":39,"titleBaseline":"middle","titleAlign":"center"}},
"y":{"field":"s","type":"quantitative","scale":{"type":"log","domain":[0.01,40],"nice":false},"axis":{"values":[0.01,0.1,1,10],"labelPadding":13,"title":"Signal [-]","titleX":-47.1,"titleY":168,"titleAngle":270,"titleBaseline":"middle","titleAlign":"center"}},
"color":{"field":"k","type":"nominal","scale":{"domain":["B","G","Y","N","P","R"],"range":["#0070C0","#A6A6A6","#FFC000","#C55A11","#F4B183","#FF0000"]},
"legend":{"legendX":19,"legendY":164,"symbolSize":2304,"rowPadding":13.4,"labelOffset":4.5,"labelExpr":"datum.label=='B'||datum.label=='G'?'1 MPa':datum.label=='Y'?'150 MPa - 30 min':datum.label=='N'?'150 MPa - 125 min':datum.label=='P'?'150 MPa - 180 min':'150 MPa - 240 min'"}},
"strokeDash":{"field":"k","type":"nominal","scale":{"domain":["B","G","Y","N","P","R"],"range":[[1,0],[1,0],[1,0],[1,0],[4,2],[1,0]]},
"legend":{"legendX":19,"legendY":164,"symbolSize":2304,"rowPadding":13.4,"labelOffset":4.5,"labelExpr":"datum.label=='B'||datum.label=='G'?'1 MPa':datum.label=='Y'?'150 MPa - 30 min':datum.label=='N'?'150 MPa - 125 min':datum.label=='P'?'150 MPa - 180 min':'150 MPa - 240 min'"}}}},
{"data":{"values":[{"t":2.9,"s":0.566,"label":"150 MPa"},{"t":0.581,"s":0.178,"label":"1 MPa"}]},"mark":{"type":"text","fontSize":17,"align":"center","baseline":"middle","color":"#000"},
"encoding":{"x":{"field":"t","type":"quantitative"},"y":{"field":"s","type":"quantitative"},"text":{"field":"label"}}},
{"data":{"values":[{"t":0.92,"s":33.1,"label":"w/c 0.40, 75%RH"}]},"mark":{"type":"text","fontSize":16.4,"align":"center","baseline":"middle","color":"#000"},
"encoding":{"x":{"field":"t","type":"quantitative"},"y":{"field":"s","type":"quantitative"},"text":{"field":"label"}}}
]}
],"columns":1,"align":"none","spacing":28,
"resolve":{"scale":{"x":"independent","y":"independent","color":"independent","strokeDash":"independent"}}}
]}
